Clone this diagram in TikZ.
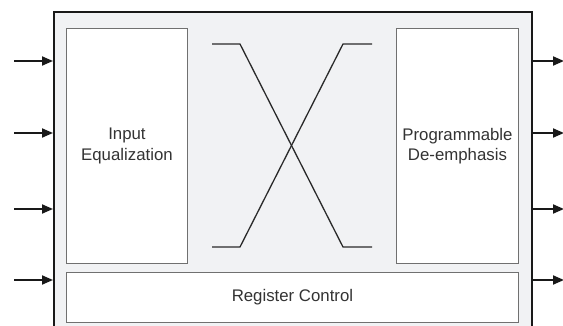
\documentclass[tikz,border=0pt]{standalone}
\usepackage{fontspec}
\setmainfont{Liberation Sans}
\usetikzlibrary{arrows.meta}
\definecolor{bgfill}{HTML}{F1F2F4}
\definecolor{boxline}{HTML}{707070}
\definecolor{txt}{HTML}{333333}
\definecolor{crossc}{HTML}{2A2A2A}
\begin{document}
\begin{tikzpicture}[x=1pt,y=-1pt,
  outerbox/.style={draw=black!90, fill=bgfill, line width=1.6pt, inner sep=0pt, anchor=north west},
  blk/.style={draw=boxline, fill=white, line width=0.9pt, inner sep=0pt, anchor=north west,
    text=txt, align=center, font=\fontsize{16.8}{20.5}\selectfont},
  arr/.style={line width=1.9pt, black!90, -{Triangle[length=11pt,width=9pt]}},
  crossline/.style={crossc, line width=1.3pt}]
\useasboundingbox (0,0) rectangle (563,326);
\clip (0,0) rectangle (563,326);
\node[outerbox, minimum width=478pt, minimum height=330pt] (sys) at (53,11) {};
\node[blk, minimum width=121pt, minimum height=235pt] (eq) at (66,28) {Input\\Equalization};
\node[blk, minimum width=122pt, minimum height=235pt] (de) at (396,28) {Programmable\\De-emphasis};
\node[blk, minimum width=452pt, minimum height=50pt] (reg) at (66,272) {Register Control};
% cross
\coordinate (a1) at (212,44);
\coordinate (a2) at (240,44);
\coordinate (a3) at (343,247);
\coordinate (a4) at (372,247);
\coordinate (b1) at (212,247);
\coordinate (b2) at (240,247);
\coordinate (b3) at (343,44);
\coordinate (b4) at (372,44);
\draw[crossline] (a1) -- (a2) -- (a3) -- (a4);
\draw[crossline] (b1) -- (b2) -- (b3) -- (b4);
% inputs and outputs
\foreach \i/\y in {1/61,2/133,3/209,4/280}{
  \coordinate (in\i) at (14,\y);
  \coordinate (out\i) at (564,\y);
  \draw[arr] (in\i) -- (in\i -| sys.west);
  \draw[arr] (out\i -| sys.east) -- (out\i);
}
\end{tikzpicture}
\end{document}
